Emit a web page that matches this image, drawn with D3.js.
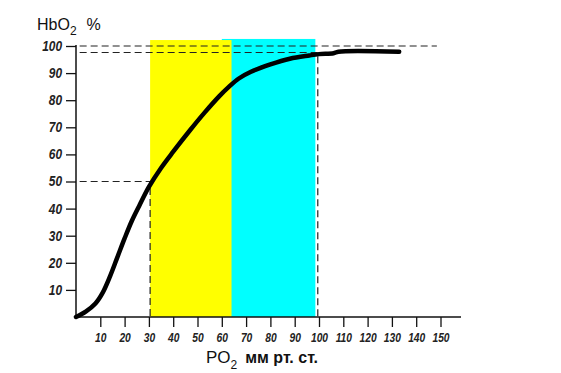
<!DOCTYPE html>
<html>
<head>
<meta charset="utf-8">
<script src="https://cdn.jsdelivr.net/npm/d3@7"></script>
<style>
  body { margin: 0; background: #fff; }
  svg { display: block; }
  .tick text { font-family: "Liberation Sans", Arial, sans-serif; font-weight: bold; font-style: italic; fill: #222; }
  .lbl { font-family: "Liberation Sans", Arial, sans-serif; fill: #111; }
</style>
</head>
<body>
<svg id="chart" width="561" height="373"></svg>
<script>
'use strict';

// PO2 (mm Hg) vs HbO2 saturation (%)
const po2 = [0, 4, 8, 11, 14, 17, 20, 23, 26, 30, 35, 40, 47, 53, 59, 63, 67, 72, 80, 88, 96, 100, 106, 108, 133];
const hbo2 = [0, 2, 5, 9, 15, 22, 29, 35.5, 41, 48, 55, 61, 69, 75.5, 81.5, 85, 88, 90.5, 93.2, 95.3, 96.5, 97, 97.3, 97.9, 97.9];

const xTicks = [10, 20, 30, 40, 50, 60, 70, 80, 90, 100, 110, 120, 130, 140, 150];
const yTicks = [10, 20, 30, 40, 50, 60, 70, 80, 90, 100];

// shaded ranges
const bands = [
  { from: 60, to: 98.5, top: 102.6, color: '#00ffff' },
  { from: 30.5, to: 64, top: 102.2, color: '#ffff00' }
];

// dashed guide lines, in data units
const guides = [
  [[1.5, 100], [148.5, 100]],
  [[1.5, 97.6], [99.5, 97.6], [99.5, 0]],
  [[1.5, 50], [30.5, 50], [30.5, 0]]
];

const svg = d3.select('#chart');
const x = d3.scaleLinear().domain([0, 150]).range([76, 440.5]);
const y = d3.scaleLinear().domain([0, 100]).range([317, 46]);

svg.selectAll('rect.band').data(bands).enter().append('rect')
  .attr('class', 'band')
  .attr('x', d => x(d.from))
  .attr('width', d => x(d.to) - x(d.from))
  .attr('y', d => y(d.top))
  .attr('height', d => y(0) - y(d.top))
  .attr('fill', d => d.color);

const line = d3.line().x(d => x(d[0])).y(d => y(d[1]));

svg.selectAll('path.guide').data(guides).enter().append('path')
  .attr('class', 'guide')
  .attr('d', line)
  .attr('fill', 'none')
  .attr('stroke', '#222')
  .attr('stroke-width', 1.2)
  .attr('stroke-dasharray', '7,4');

// axes
const xAxis = svg.append('g')
  .attr('transform', `translate(0,${y(0)})`)
  .call(d3.axisBottom(x).tickValues(xTicks).tickSize(10).tickPadding(6).tickSizeOuter(0));
const yAxis = svg.append('g')
  .attr('transform', `translate(${x(0)},0)`)
  .call(d3.axisLeft(y).tickValues(yTicks).tickSize(10).tickPadding(5).tickSizeOuter(0));

[xAxis, yAxis].forEach(g => {
  g.select('.domain').remove();
  g.selectAll('.tick line').attr('stroke', '#111').attr('stroke-width', 1.3);
});

// narrow the labels like the condensed face of the original
xAxis.selectAll('.tick text').attr('font-size', 12.5).attr('transform', 'scale(0.82,1)');
yAxis.selectAll('.tick text').attr('font-size', 14).attr('x', -14 / 0.85).attr('transform', 'scale(0.85,1)');

svg.append('line')
  .attr('x1', x(0)).attr('x2', 461)
  .attr('y1', y(0)).attr('y2', y(0))
  .attr('stroke', '#111').attr('stroke-width', 1.5);
svg.append('line')
  .attr('x1', x(0)).attr('x2', x(0))
  .attr('y1', y(0)).attr('y2', y(100) - 1)
  .attr('stroke', '#111').attr('stroke-width', 1.5);

// saturation curve
svg.append('path')
  .datum(po2.map((p, i) => [p, hbo2[i]]))
  .attr('d', line.curve(d3.curveCatmullRom.alpha(0.5)))
  .attr('fill', 'none')
  .attr('stroke', '#000')
  .attr('stroke-width', 4.5)
  .attr('stroke-linecap', 'round')
  .attr('stroke-linejoin', 'round');

// titles
const yTitle = svg.append('text').attr('class', 'lbl')
  .attr('x', 37).attr('y', 30).attr('font-size', 16);
yTitle.append('tspan').text('HbO');
yTitle.append('tspan').attr('font-size', 12).attr('dy', 5).text('2');
yTitle.append('tspan').attr('dx', 10).attr('dy', -5).text('%');

const xTitle = svg.append('text').attr('class', 'lbl')
  .attr('x', 206).attr('y', 363).attr('font-size', 17);
xTitle.append('tspan').text('PO');
xTitle.append('tspan').attr('font-size', 12).attr('dy', 6).text('2');
xTitle.append('tspan').attr('dx', 8).attr('dy', -6)
  .attr('font-weight', 'bold').attr('font-size', 16).text('мм рт. ст.');
</script>
</body>
</html>
